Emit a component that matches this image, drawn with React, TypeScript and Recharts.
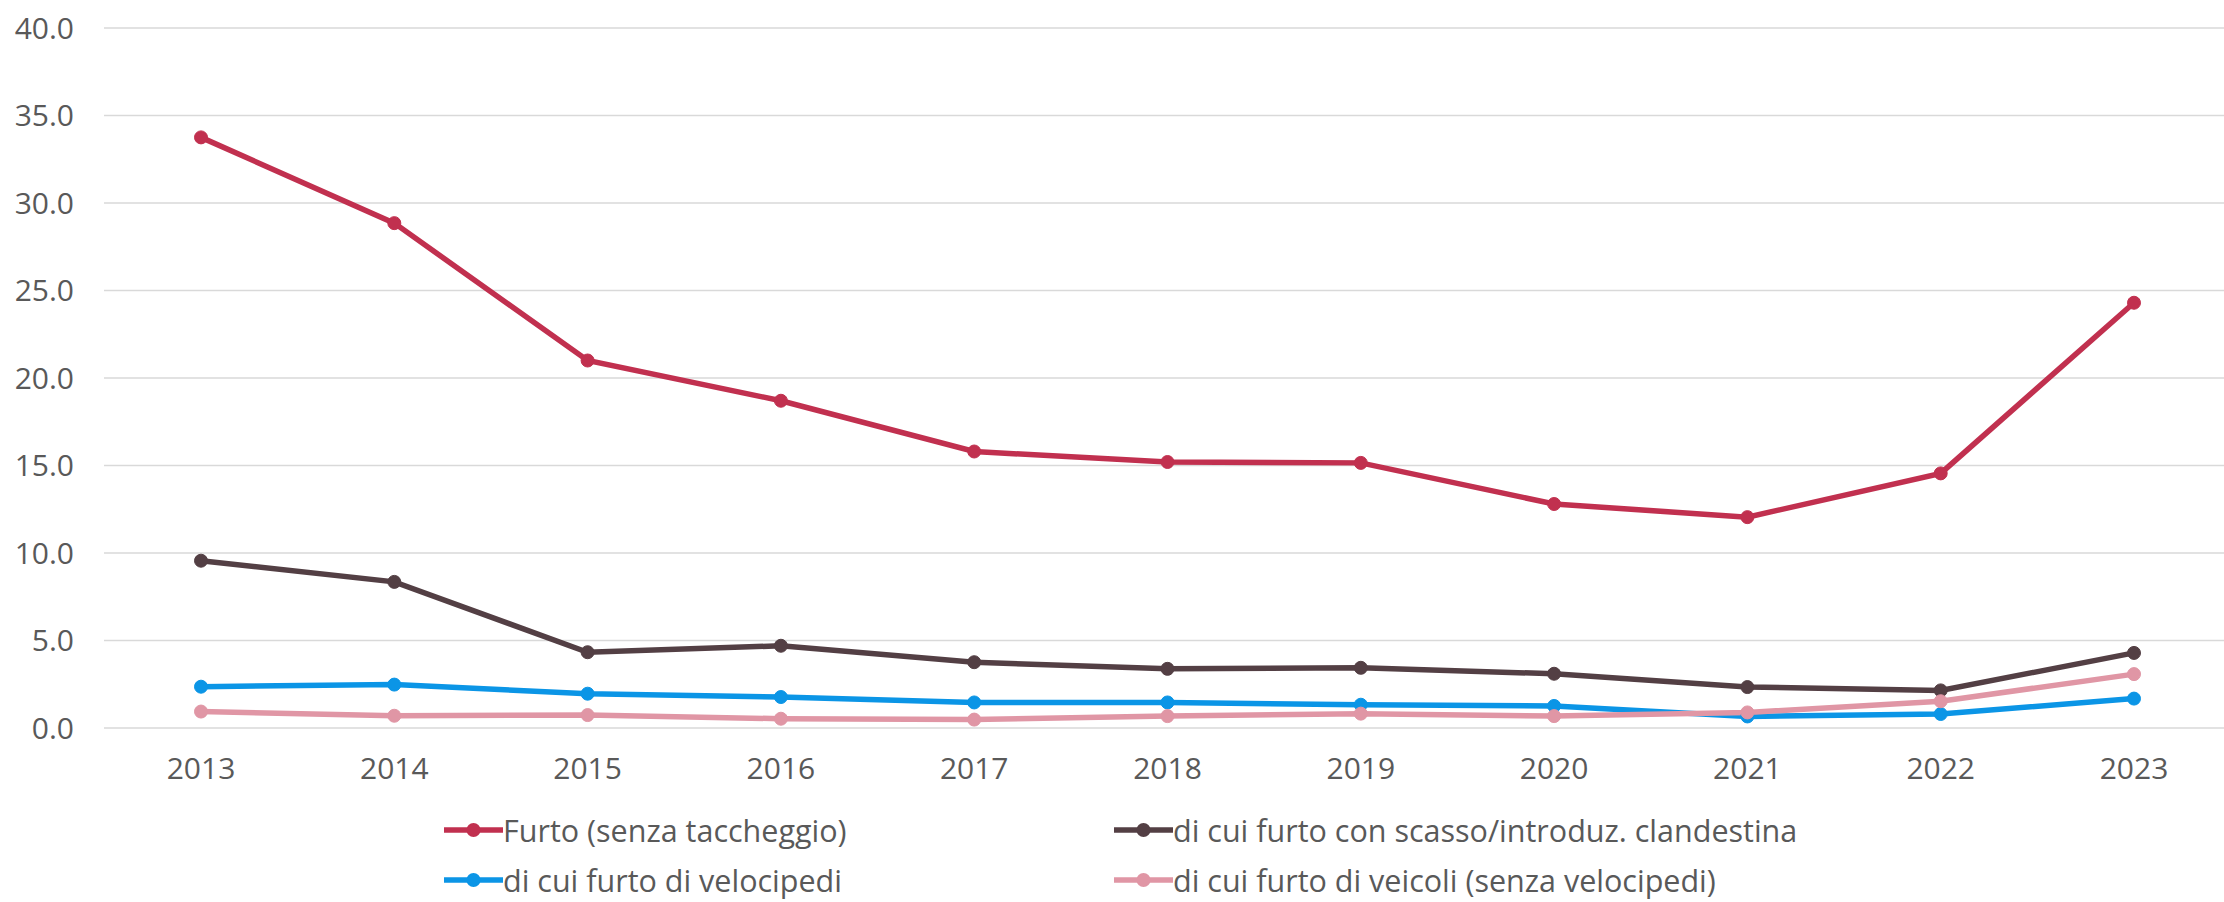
import React from 'react';
import { LineChart, Line, XAxis, YAxis, CartesianGrid, Legend } from 'recharts';

const years = ['2013', '2014', '2015', '2016', '2017', '2018', '2019', '2020', '2021', '2022', '2023'];

const furto = [33.75, 28.85, 21.0, 18.7, 15.8, 15.2, 15.15, 12.8, 12.05, 14.55, 24.3];
const scasso = [9.56, 8.35, 4.33, 4.7, 3.76, 3.38, 3.44, 3.1, 2.34, 2.15, 4.29];
const velocipedi = [2.36, 2.48, 1.96, 1.77, 1.46, 1.46, 1.33, 1.26, 0.66, 0.8, 1.68];
const veicoli = [0.94, 0.7, 0.74, 0.53, 0.48, 0.68, 0.82, 0.68, 0.89, 1.53, 3.08];

const yTicks = [0, 5, 10, 15, 20, 25, 30, 35, 40];

const series = [
  { key: 'furto', name: 'Furto (senza taccheggio)', color: '#C1304F' },
  { key: 'scasso', name: 'di cui furto con scasso/introduz. clandestina', color: '#533F44' },
  { key: 'velocipedi', name: 'di cui furto di velocipedi', color: '#0B95E6' },
  { key: 'veicoli', name: 'di cui furto di veicoli (senza velocipedi)', color: '#E096A5' },
];

const data = years.map((year, i) => ({
  year,
  furto: furto[i],
  scasso: scasso[i],
  velocipedi: velocipedi[i],
  veicoli: veicoli[i],
}));

const FONT = '"Open Sans", Lato, sans-serif';
const TEXT = '#595959';

// legend: 2 colonne, 2 righe (come l'originale)
function renderLegend() {
  const colX = [444, 1114];
  const rowY = [42, 92];
  return (
    <div style={{ position: 'relative', width: 2240, height: 114 }}>
      {series.map((s, i) => (
        <div
          key={s.key}
          style={{
            position: 'absolute',
            left: colX[i % 2],
            top: rowY[Math.floor(i / 2)] - 17,
            height: 34,
            lineHeight: '34px',
            display: 'flex',
            alignItems: 'center',
            fontFamily: FONT,
            fontSize: 30.5,
            color: TEXT,
            whiteSpace: 'nowrap',
          }}
        >
          <svg width={59} height={20} style={{ display: 'block' }}>
            <line x1={0} y1={10} x2={59} y2={10} stroke={s.color} strokeWidth={5.5} />
            <circle cx={29.5} cy={10} r={7} fill={s.color} />
          </svg>
          <span>{s.name}</span>
        </div>
      ))}
    </div>
  );
}

export default function App() {
  return (
    <div style={{ position: 'absolute', left: 0, top: 0, width: 2224, height: 902, overflow: 'hidden', background: '#fff' }}>
      <LineChart width={2240} height={902} data={data} margin={{ top: 28, right: 9, bottom: 0, left: 0 }}>
        <CartesianGrid vertical={false} stroke="#D9D9D9" strokeWidth={1.5} />
        <XAxis
          dataKey="year"
          height={60}
          padding={{ left: 97, right: 97 }}
          axisLine={false}
          tickLine={false}
          tickSize={0}
          tickMargin={30}
          interval={0}
          tick={{ fill: TEXT, fontSize: 30, fontFamily: FONT }}
        />
        <YAxis
          width={104}
          domain={[0, 40]}
          ticks={yTicks}
          axisLine={false}
          tickLine={false}
          tickSize={0}
          tickMargin={30}
          tickFormatter={(v: number) => v.toFixed(1)}
          tick={{ fill: TEXT, fontSize: 30, fontFamily: FONT }}
        />
        <Legend verticalAlign="bottom" height={114} content={renderLegend} />
        {series.map((s) => (
          <Line
            key={s.key}
            type="linear"
            dataKey={s.key}
            name={s.name}
            stroke={s.color}
            strokeWidth={5.5}
            dot={{ r: 6.5, fill: s.color, stroke: s.color, strokeWidth: 1 }}
            activeDot={false}
            isAnimationActive={false}
          />
        ))}
      </LineChart>
    </div>
  );
}
